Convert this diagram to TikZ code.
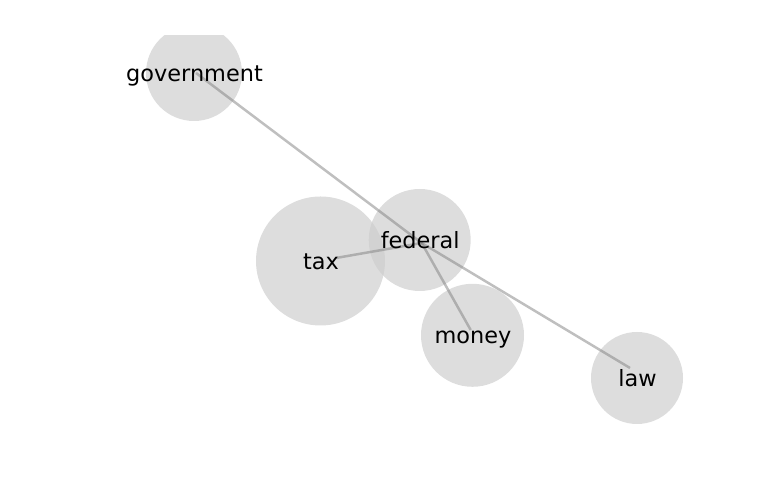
\documentclass[tikz,border=0pt]{standalone}
\usepackage{fontspec}
\setmainfont{DejaVu Sans}
\definecolor{nodefill}{RGB}{205,205,205}
\definecolor{edgecol}{RGB}{128,128,128}
\tikzset{
  bubble/.style={circle, inner sep=0pt, fill=nodefill, fill opacity=0.68, draw=none},
  link/.style={draw=edgecol, draw opacity=0.5, line width=2.5bp},
  lbl/.style={anchor=base, inner sep=0pt, font=\fontsize{22.4bp}{26bp}\selectfont, text=black}
}
\begin{document}
\begin{tikzpicture}[x=1bp,y=1bp]
\useasboundingbox (0,0) rectangle (768,500);
\begin{scope}
\clip (0,0) rectangle (768,464.3);
\node[bubble, minimum size=96bp]  (government) at (194,427) {};
\end{scope}
\node[bubble, minimum size=102bp] (federal) at (419.7,260) {};
\node[bubble, minimum size=129bp] (tax)     at (320.5,239) {};
\node[bubble, minimum size=103bp] (money)   at (472.5,164.7) {};
\node[bubble, minimum size=92bp]  (law)     at (637,122) {};
% edges
\draw[link] ([xshift=2bp]government.center) -- ([xshift=2bp,yshift=-3bp]federal.center);
\draw[link] ([xshift=15.5bp,yshift=3bp]tax.center) -- ([xshift=2bp,yshift=-3bp]federal.center);
\draw[link] ([xshift=2bp,yshift=-3bp]federal.center) -- ([xshift=-1.8bp,yshift=5.3bp]money.center);
\draw[link] ([xshift=2bp,yshift=-3bp]federal.center) -- ([xshift=-7bp,yshift=10bp]law.center);
% labels
\node[lbl] (governmentlbl) at ([xshift=0.5bp,yshift=-8.2bp]government.center) {government};
\node[lbl] (federallbl) at ([xshift=0.5bp,yshift=-8.2bp]federal.center) {federal};
\node[lbl] (taxlbl) at ([xshift=0.5bp,yshift=-8.2bp]tax.center) {tax};
\node[lbl] (moneylbl) at ([xshift=0.5bp,yshift=-8.2bp]money.center) {money};
\node[lbl] (lawlbl) at ([xshift=0.5bp,yshift=-8.2bp]law.center) {law};
\end{tikzpicture}
\end{document}
